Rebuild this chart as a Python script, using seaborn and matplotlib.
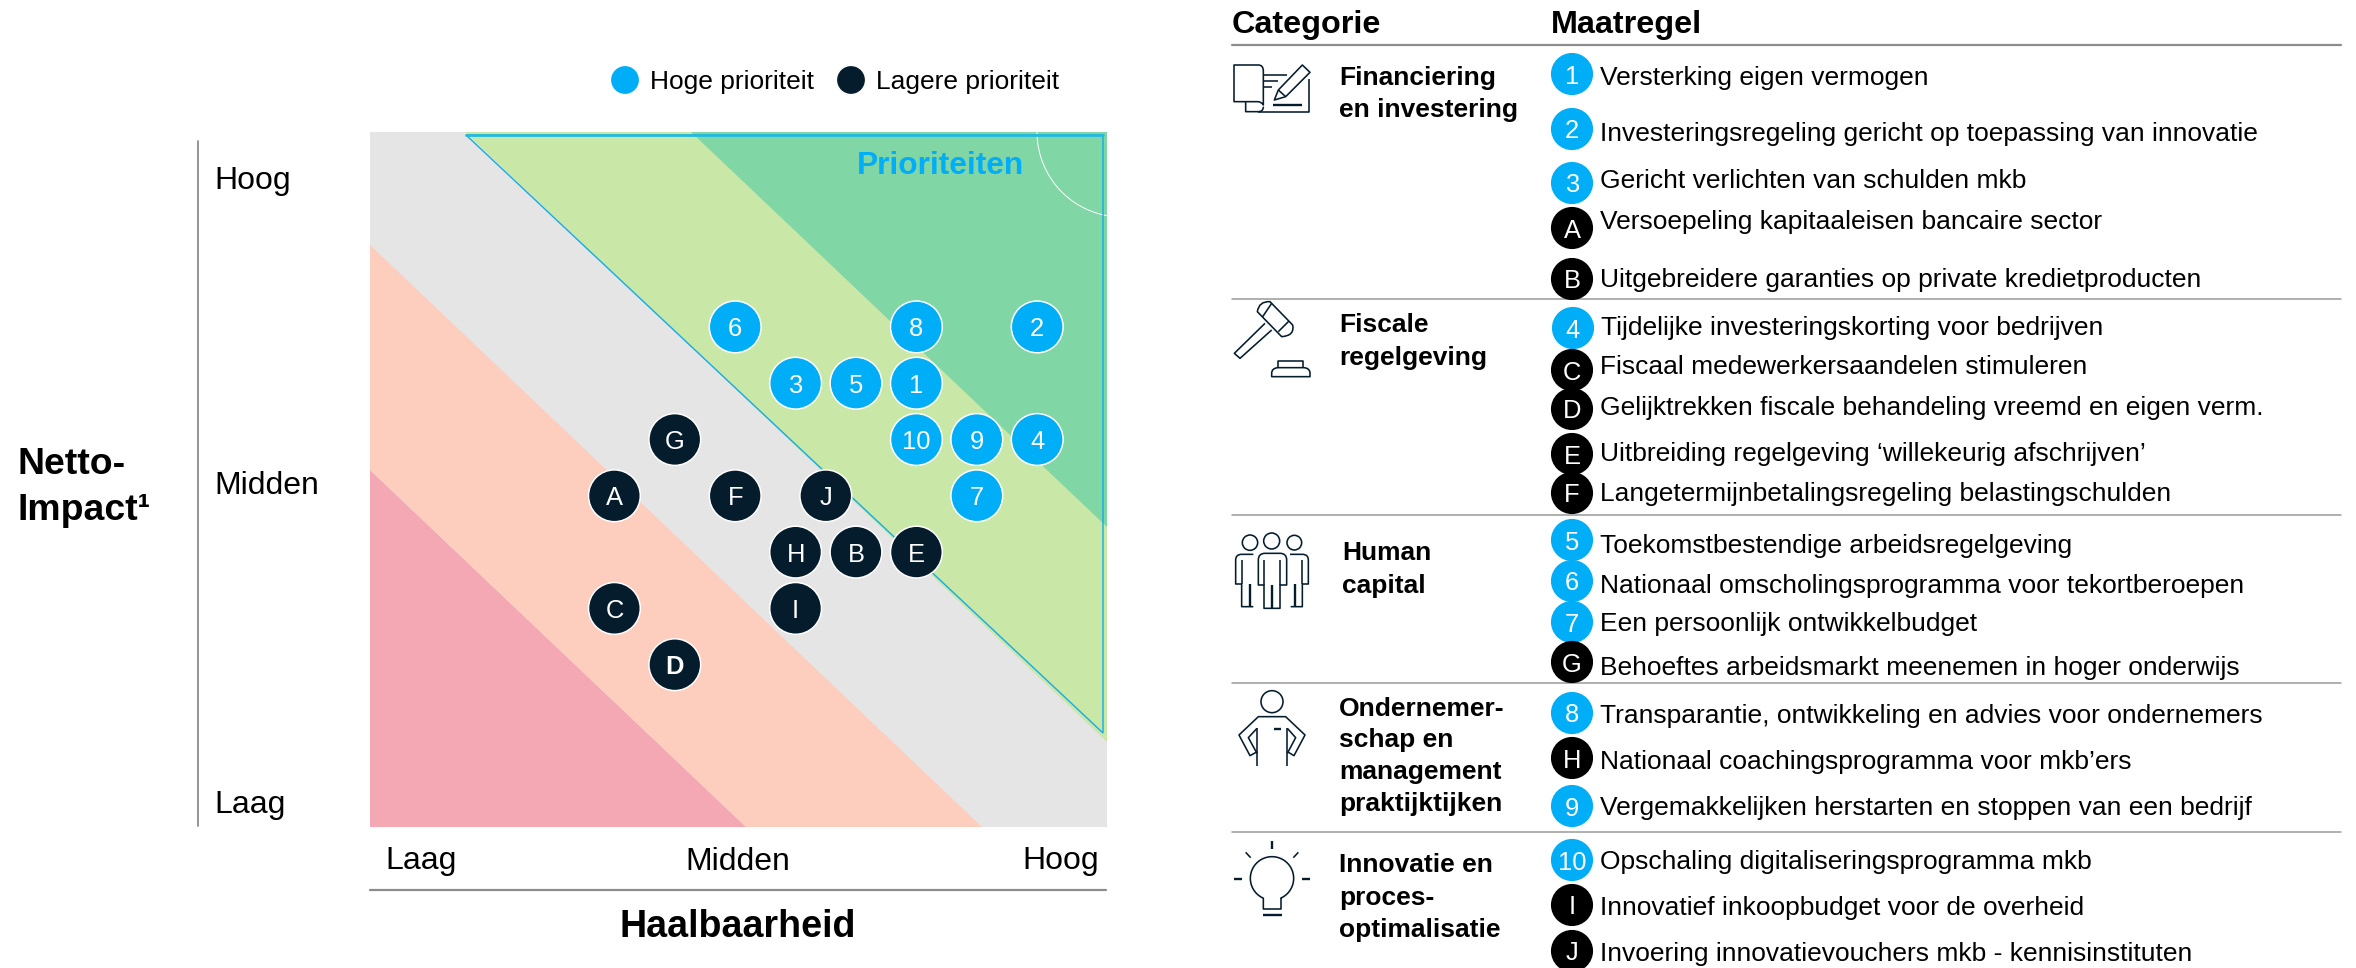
import matplotlib
matplotlib.use("Agg")
import matplotlib.pyplot as plt
from matplotlib.patches import Polygon, PathPatch, Circle, Ellipse
from matplotlib.path import Path
import numpy as np
import pandas as pd
import seaborn as sns

# ---------- chart data ----------
labels = ["1","2","3","4","5","6","7","8","9","10","A","B","C","D","E","F","G","H","I","J"]
haalbaarheid = [6,8,4,8,5,3,7,6,7,6, 1,5,1,2,6,3,2,4,4,4.5]
netto_impact = [6,7,6,5,6,7,4,7,5,5, 4,3,2,1,3,4,5,3,2,4]
prioriteit = ["Hoge prioriteit"]*10 + ["Lagere prioriteit"]*10

categorieen = [["Financiering","en investering"],["Fiscale","regelgeving"],["Human","capital"],
               ["Ondernemer-","schap en","management","praktijktijken"],["Innovatie en","proces-","optimalisatie"]]
cat_x = [1339,1339,1342,1339,1339]
cat_y = [[76,108],[323,355],[551,583],[706,738,770,802],[863,895,927]]

maatregel_ids = ["1","2","3","A","B","4","C","D","E","F","5","6","7","G","8","H","9","10","I","J"]
maatregelen = ["Versterking eigen vermogen",
 "Investeringsregeling gericht op toepassing van innovatie",
 "Gericht verlichten van schulden mkb",
 "Versoepeling kapitaaleisen bancaire sector",
 "Uitgebreidere garanties op private kredietproducten",
 "Tijdelijke investeringskorting voor bedrijven",
 "Fiscaal medewerkersaandelen stimuleren",
 "Gelijktrekken fiscale behandeling vreemd en eigen verm.",
 "Uitbreiding regelgeving ‘willekeurig afschrijven’",
 "Langetermijnbetalingsregeling belastingschulden",
 "Toekomstbestendige arbeidsregelgeving",
 "Nationaal omscholingsprogramma voor tekortberoepen",
 "Een persoonlijk ontwikkelbudget",
 "Behoeftes arbeidsmarkt meenemen in hoger onderwijs",
 "Transparantie, ontwikkeling en advies voor ondernemers",
 "Nationaal coachingsprogramma voor mkb’ers",
 "Vergemakkelijken herstarten en stoppen van een bedrijf",
 "Opschaling digitaliseringsprogramma mkb",
 "Innovatief inkoopbudget voor de overheid",
 "Invoering innovatievouchers mkb - kennisinstituten"]
badge_y = [74,129,183,228,279,328,370,409,454,493,540,581,622,662,713,758,806,860,905,951]
text_y  = [76,132,179,220,278,325,365,405,452,492,543,583,621,665,713,759,806,860,906,952]

# ---------- style ----------
BLUE, NAVY = "#00ADF7", "#051C2C"
C_GREY, C_PINK, C_PEACH, C_LGREEN, C_GREEN = "#E5E5E5", "#F3A8B4", "#FDCDBE", "#C9E7A7", "#81D6A6"
FONT = ["Liberation Sans", "DejaVu Sans"]
sns.set_theme(style="white")
plt.rcParams["font.family"] = FONT

W, H = 2356, 968
L, R, T, B = 370, 1107, 132, 827
fig = plt.figure(figsize=(W/100, H/100), dpi=100, facecolor="white")

# full-figure layer for layout elements, in pixels
ov = fig.add_axes([0, 0, 1, 1], zorder=1)
ov.set_xlim(0, W); ov.set_ylim(H, 0); ov.axis("off")

# plot layer
ax = fig.add_axes([L/W, 1-B/H, (R-L)/W, (B-T)/H], zorder=2)
sx, sy = 60.4, 56.3
dx = lambda p: (p-554)/sx
dy = lambda p: (721-p)/sy
ax.set_xlim(dx(L), dx(R)); ax.set_ylim(dy(B), dy(T))
ax.set_facecolor(C_GREY)
ax.set_xticks([]); ax.set_yticks([])
for s in ax.spines.values():
    s.set_visible(False)

def poly(pts, **kw):
    return ax.add_patch(Polygon([(dx(a), dy(b)) for a, b in pts], closed=True, **kw))

poly([(L,B),(L,470),(746,B)], fc=C_PINK, ec="none", zorder=1)
poly([(L,470),(L,245),(982,B),(746,B)], fc=C_PEACH, ec="none", zorder=1)
poly([(465,T),(R,T),(R,742)], fc=C_LGREEN, ec="none", zorder=1)
poly([(691,T),(R,T),(R,527)], fc=C_GREEN, ec="none", zorder=1.1)
ax.add_patch(Ellipse((dx(1122), dy(132)), 170/sx, 170/sy, fc="none", ec="white", lw=0.7, zorder=1.2))
poly([(466,135),(1103,135),(1103,733)], fc="none", ec="#12ACE8", lw=1.0, zorder=1.3)
ax.plot([dx(466), dx(1103)], [dy(135), dy(135)], color="#25B9DC", lw=2.0, zorder=1.3)
ax.text(dx(1024), dy(166), "Prioriteiten", color=BLUE, fontsize=22.8, fontweight="bold",
        ha="right", va="center", zorder=2)

df = pd.DataFrame({"label": labels, "x": haalbaarheid, "y": netto_impact, "prioriteit": prioriteit})
sns.scatterplot(data=df, x="x", y="y", hue="prioriteit",
                palette={"Hoge prioriteit": BLUE, "Lagere prioriteit": NAVY},
                s=1390, edgecolor="white", linewidth=1.1, legend=False, ax=ax, zorder=3, clip_on=False)
ax.set_xlabel(""); ax.set_ylabel("")
for r in df.itertuples():
    ax.text(r.x, r.y, r.label, color="white", fontsize=18.4, ha="center", va="center_baseline",
            fontweight="bold" if r.label == "D" else "normal", zorder=4)

# legend
ov.scatter([625, 851], [80, 80], s=400, c=[BLUE, NAVY], linewidths=0)
ov.text(650, 82, "Hoge prioriteit", fontsize=19, color="black", va="center")
ov.text(876, 82, "Lagere prioriteit", fontsize=19, color="black", va="center")

# axis decoration
GREYLINE = "#8C8C8C"
ov.plot([198, 198], [141, 826], color=GREYLINE, lw=1.3)
ov.plot([370, 1106], [890, 890], color=GREYLINE, lw=1.6)
for txt, y in [("Hoog", 177), ("Midden", 483), ("Laag", 801)]:
    ov.text(214.5, y, txt, fontsize=23, color="black", va="center_baseline")
ov.text(385.5, 858, "Laag", fontsize=23, color="black", va="center_baseline")
ov.text(738, 858, "Midden", fontsize=23, color="black", va="center_baseline", ha="center")
ov.text(1099, 858, "Hoog", fontsize=23, color="black", va="center_baseline", ha="right")
ov.text(738, 923, "Haalbaarheid", fontsize=27.1, fontweight="bold", color="black", ha="center", va="center_baseline")
ov.text(18, 460, "Netto-", fontsize=26.9, fontweight="bold", color="black", va="center_baseline")
ov.text(18, 506, "Impact¹", fontsize=26.9, fontweight="bold", color="black", va="center_baseline")

# table
ov.text(1232, 22, "Categorie", fontsize=23.3, fontweight="bold", color="black", va="center_baseline")
ov.text(1551, 22, "Maatregel", fontsize=23.3, fontweight="bold", color="black", va="center_baseline")
ov.plot([1232, 2341], [45, 45], color=GREYLINE, lw=1.6)
for y in [299, 515, 683, 832]:
    ov.plot([1232, 2341], [y, y], color="#9A9A9A", lw=1.1)
for lines, x, ys in zip(categorieen, cat_x, cat_y):
    for t, y in zip(lines, ys):
        ov.text(x, y, t, fontsize=19, fontweight="bold", color="black", va="center_baseline")

tbl = pd.DataFrame({"id": maatregel_ids, "tekst": maatregelen, "by": badge_y, "ty": text_y})
tbl["bx"] = [1573 if i == "4" else 1572 for i in tbl["id"]]
tbl["kleur"] = ["num" if i.isdigit() else "let" for i in tbl["id"]]
sns.scatterplot(data=tbl, x="bx", y="by", hue="kleur", palette={"num": BLUE, "let": "black"},
                s=920, linewidth=0, legend=False, ax=ov, zorder=3)
ov.set_xlabel(""); ov.set_ylabel(""); ov.set_xlim(0, W); ov.set_ylim(H, 0); ov.axis("off")
for r in tbl.itertuples():
    ov.text(r.bx, r.by, r.id, color="white", fontsize=18.4, ha="center", va="center_baseline", zorder=4)
    ov.text(1600 + (1 if r.id == "4" else 0), r.ty, r.tekst, color="black", fontsize=19.03, va="center_baseline")

# icons: points are (u, v) = 3x local pixels; 4-tuples are quadratic curves
def stroke(ox, oy, pts, closed=False, lw=1.15):
    verts, codes = [], []
    for i, p in enumerate(pts):
        if len(p) == 2:
            verts.append((ox+p[0]/3, oy+p[1]/3)); codes.append(Path.MOVETO if i == 0 else Path.LINETO)
        else:
            verts += [(ox+p[0]/3, oy+p[1]/3), (ox+p[2]/3, oy+p[3]/3)]; codes += [Path.CURVE3, Path.CURVE3]
    if closed:
        verts.append(verts[0]); codes.append(Path.CLOSEPOLY)
    ov.add_patch(PathPatch(Path(verts, codes), fc="none", ec=NAVY, lw=lw, capstyle="butt", joinstyle="round"))

def ring(ox, oy, u, v, r):
    ov.add_patch(Circle((ox+u/3, oy+v/3), r/3, fc="none", ec=NAVY, lw=1.15))

# document
o = (1225, 55)
stroke(*o, [(27,30),(100,30),(115,30,115,48),(115,150),(110,140,98,140),(27,140)], closed=True)
stroke(*o, [(62,140),(62,170),(100,170),(115,170,115,155)])
stroke(*o, [(100,172),(252,172),(252,72)])
stroke(*o, [(118,60),(185,60)]); stroke(*o, [(118,77),(160,77)]); stroke(*o, [(118,95),(140,95)])
stroke(*o, [(145,150),(230,150)], lw=1.7)
stroke(*o, [(148,135),(160,105),(232,30),(255,52),(182,125)], closed=True)
stroke(*o, [(160,105),(182,125)])
# gavel
o = (1225, 295)
stroke(*o, [(97,50),(102,18,135,20),(203,90),(210,122,170,125)], closed=True)
stroke(*o, [(113,65),(140,25)]); stroke(*o, [(160,110),(192,78)])
stroke(*o, [(120,85),(28,175),(45,190),(140,105)])
stroke(*o, [(158,218),(158,197),(235,197),(235,218)])
stroke(*o, [(140,245),(255,245),(255,232),(252,218,235,218),(158,218),(140,220,140,235)], closed=True)
# people
o = (1225, 525)
ring(*o, 75, 53, 23); ring(*o, 140, 48, 24); ring(*o, 208, 53, 22)
stroke(*o, [(100,180),(100,105),(100,85,120,85),(165,85),(185,85,185,105),(185,180),(165,180),(165,250),(117,250),(117,180)], closed=True)
stroke(*o, [(117,105),(117,180)]); stroke(*o, [(165,105),(165,180)]); stroke(*o, [(140,180),(140,250)], lw=1.7)
stroke(*o, [(85,88),(50,88),(32,88,32,105),(32,177),(50,177),(50,245),(85,245)])
stroke(*o, [(50,105),(50,177)]); stroke(*o, [(75,177),(75,245)], lw=1.7)
stroke(*o, [(195,88),(232,88),(250,88,250,105),(250,177),(232,177),(232,245),(197,245)])
stroke(*o, [(232,105),(232,177)]); stroke(*o, [(210,177),(210,245)], lw=1.7)
# person
o = (1225, 685)
ring(*o, 141, 50, 33)
stroke(*o, [(97,200),(75,212),(42,150),(100,95),(182,95),(240,150),(207,212),(187,200)])
stroke(*o, [(96,130),(70,158),(96,205)]); stroke(*o, [(187,130),(212,158),(187,205)])
stroke(*o, [(96,130),(96,243)]); stroke(*o, [(187,130),(187,243)])
stroke(*o, [(147,131),(168,131)], lw=1.7)
# bulb
o = (1225, 835)
stroke(*o, [(141,18),(141,42)], lw=1.7); stroke(*o, [(27,131),(50,131)], lw=1.7); stroke(*o, [(232,131),(255,131)], lw=1.7)
stroke(*o, [(62,52),(77,68)]); stroke(*o, [(220,52),(205,68)])
th = np.radians(np.linspace(114, 426, 60))
stroke(*o, [(115,222)] + [(115,190)] + [(141+65*np.cos(t), 130+65*np.sin(t)) for t in th] + [(168,190),(168,222)], closed=True)
stroke(*o, [(115,240),(170,240)], lw=1.7)

fig.savefig("out.png", dpi=100, facecolor="white")
